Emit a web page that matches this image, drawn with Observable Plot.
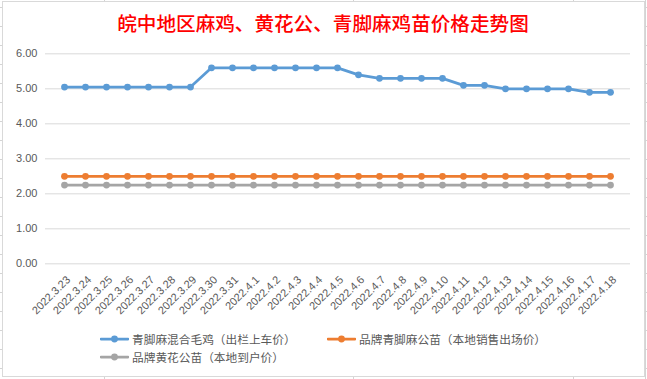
<!DOCTYPE html>
<html>
<head>
<meta charset="utf-8">
<script src="https://cdn.jsdelivr.net/npm/d3@7"></script>
<script src="https://cdn.jsdelivr.net/npm/@observablehq/plot@0.6"></script>
<style>
  html, body { margin: 0; padding: 0; background: #fff; }
  #page { position: relative; width: 647px; height: 379px; overflow: hidden;
    background:
      linear-gradient(to right, transparent 104px, #d4d4d4 104px, #d4d4d4 105px, transparent 105px),
      linear-gradient(to right, transparent 353px, #d4d4d4 353px, #d4d4d4 354px, transparent 354px),
      linear-gradient(to right, transparent 573px, #d4d4d4 573px, #d4d4d4 574px, transparent 574px),
      linear-gradient(to right, transparent 645px, #d4d4d4 645px, #d4d4d4 646px, transparent 646px),
      repeating-linear-gradient(to bottom, transparent 0px, transparent 7px, #d4d4d4 7px, #d4d4d4 8px, transparent 8px, transparent 19px);
  }
  #chart { position: absolute; left: 2px; top: 1px; width: 643px; height: 376px; box-sizing: border-box;
    border: 1px solid #d9d9d9; background: #fff; }
  #title { position: absolute; left: 0; top: 11px; width: 646px; text-align: center;
    font-family: "Noto Sans CJK SC", sans-serif; font-size: 19.6px; font-weight: 500; color: #ff0000; line-height: 24px; }
  #plot { position: absolute; left: 0; top: 40px; }
  .leg { position: absolute; display: flex; align-items: center; font-family: "Noto Sans CJK SC", sans-serif;
    font-size: 11.7px; color: #595959; line-height: 14px; white-space: nowrap; }
  .leg svg { margin-right: 3px; }
</style>
</head>
<body>
<div id="page">
  <div id="chart"></div>
  <div id="title">皖中地区麻鸡、黄花公、青脚麻鸡苗价格走势图</div>
  <div id="plot"></div>
  <div id="legend"></div>
</div>
<script>
const dates = ["2022.3.23","2022.3.24","2022.3.25","2022.3.26","2022.3.27","2022.3.28","2022.3.29","2022.3.30","2022.3.31",
  "2022.4.1","2022.4.2","2022.4.3","2022.4.4","2022.4.5","2022.4.6","2022.4.7","2022.4.8","2022.4.9","2022.4.10",
  "2022.4.11","2022.4.12","2022.4.13","2022.4.14","2022.4.15","2022.4.16","2022.4.17","2022.4.18"];
const seriesNames = ["青脚麻混合毛鸡（出栏上车价）", "品牌青脚麻公苗（本地销售出场价）", "品牌黄花公苗（本地到户价）"];
const seriesColors = ["#5b9bd5", "#ed7d31", "#a5a5a5"];
const maoji = [5.05,5.05,5.05,5.05,5.05,5.05,5.05,5.6,5.6,5.6,5.6,5.6,5.6,5.6,5.4,5.3,5.3,5.3,5.3,5.1,5.1,5.0,5.0,5.0,5.0,4.9,4.9];
const qingjiao = [2.5,2.5,2.5,2.5,2.5,2.5,2.5,2.5,2.5,2.5,2.5,2.5,2.5,2.5,2.5,2.5,2.5,2.5,2.5,2.5,2.5,2.5,2.5,2.5,2.5,2.5,2.5];
const huanghua = [2.25,2.25,2.25,2.25,2.25,2.25,2.25,2.25,2.25,2.25,2.25,2.25,2.25,2.25,2.25,2.25,2.25,2.25,2.25,2.25,2.25,2.25,2.25,2.25,2.25,2.25,2.25];
const yTicks = [0,1,2,3,4,5,6];

const allSeries = [maoji, qingjiao, huanghua];
const rows = allSeries.flatMap((vals, si) => vals.map((v, i) => ({date: dates[i], value: v, series: seriesNames[si]})));

const inset = (647 - 45 - 17) / dates.length / 2;
const chart = Plot.plot({
  width: 647,
  height: 290,
  marginTop: 13.33,
  marginBottom: 66.67,
  marginLeft: 45,
  marginRight: 17,
  style: {fontFamily: "'Liberation Sans', Arial, sans-serif", fontSize: "11px", color: "#595959", background: "transparent", overflow: "visible"},
  x: {type: "point", domain: dates, padding: 0, insetLeft: inset, insetRight: inset},
  y: {domain: [0, 6]},
  color: {domain: seriesNames, range: seriesColors},
  marks: [
    Plot.ruleY(yTicks, {stroke: "#d9d9d9", strokeWidth: 1}),
    Plot.axisY({ticks: yTicks, tickFormat: d3.format(".2f"), tickSize: 0, tickPadding: 8, label: null}),
    Plot.axisX({tickRotate: -45, tickSize: 0, tickPadding: 14, dx: 4, label: null}),
    Plot.line(rows, {x: "date", y: "value", z: "series", stroke: "series", strokeWidth: 2.75, strokeLinejoin: "round", strokeLinecap: "round"}),
    Plot.dot(rows, {x: "date", y: "value", fill: "series", r: 3.4, stroke: "none"})
  ]
});
document.getElementById("plot").appendChild(chart);

const legendPos = [[100, 339], [327, 339], [100, 357]];
const legend = document.getElementById("legend");
seriesNames.forEach((name, i) => {
  const div = document.createElement("div");
  div.className = "leg";
  div.style.left = legendPos[i][0] + "px";
  div.style.top = (legendPos[i][1] - 7) + "px";
  div.innerHTML = `<svg width="29" height="14"><line x1="1" y1="7" x2="28" y2="7" stroke="${seriesColors[i]}" stroke-width="2.75" stroke-linecap="round"/><circle cx="14.5" cy="7" r="3.4" fill="${seriesColors[i]}"/></svg><span>${name}</span>`;
  legend.appendChild(div);
});
</script>
</body>
</html>
